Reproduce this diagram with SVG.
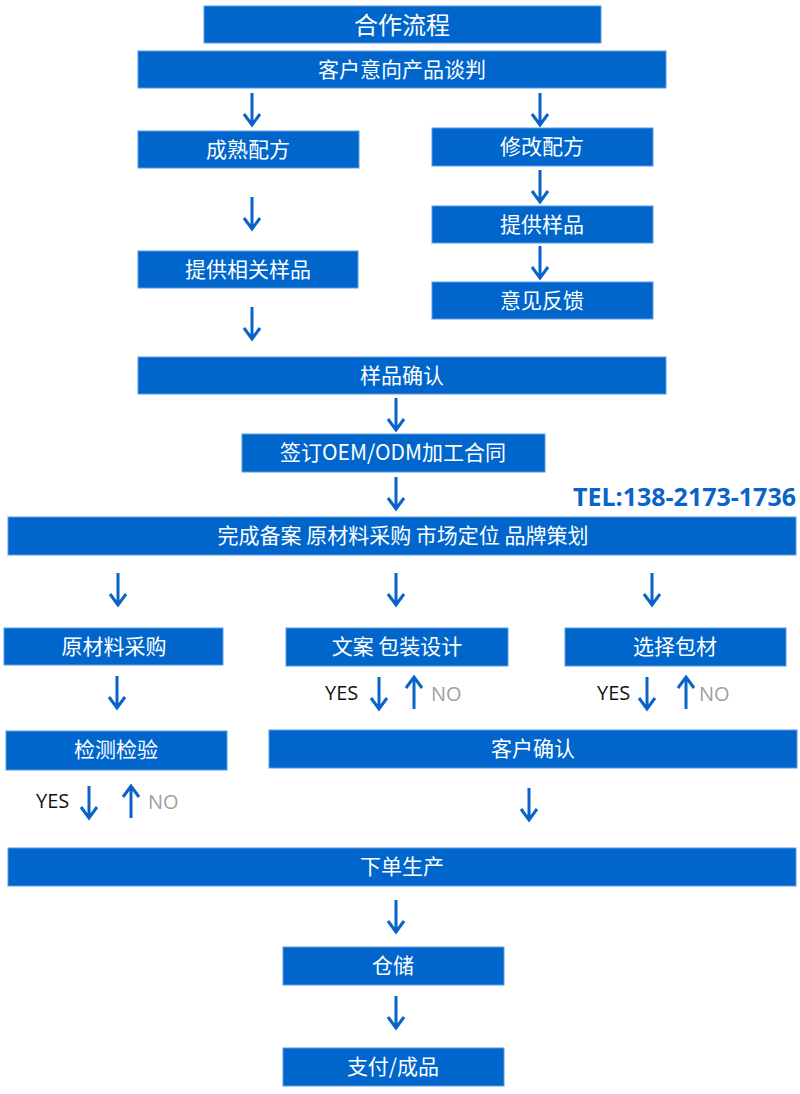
<svg xmlns="http://www.w3.org/2000/svg" xmlns:xlink="http://www.w3.org/1999/xlink" width="800" height="1094" viewBox="0 0 800 1094">
<style>
.box{fill:#0066CC;stroke:#5b9be0;stroke-width:1}
.t{font-family:"Noto Sans CJK SC","Noto Sans",sans-serif;font-size:21px;fill:#fff;text-anchor:middle;dominant-baseline:central}
.title{font-size:24px}
.arr{fill:none;stroke:#0a63c9;stroke-width:3}
.yes{font-family:"Open Sans","Noto Sans",sans-serif;font-size:20px;fill:#111}
.no{font-family:"Open Sans","Noto Sans",sans-serif;font-size:20px;fill:#a0a0a0}
.tel{font-family:"Open Sans","Noto Sans",sans-serif;font-size:25px;font-weight:bold;fill:#0a63c9}
</style>
<defs>
<path id="down" d="M0,0 V32 M-8,21 L0,32 L8,21"/>
<path id="up" d="M0,32 V0 M-8,11 L0,0 L8,11"/>
</defs>
<rect width="800" height="1094" fill="#fff"/>
<g id="n-title"><rect class="box" x="204" y="6" width="397" height="37"/><text class="t title" x="402" y="23">合作流程</text></g>
<g id="n-negotiate"><rect class="box" x="138" y="51" width="528" height="37"/><text class="t" x="402" y="68">客户意向产品谈判</text></g>
<g id="n-mature"><rect class="box" x="138" y="131" width="221" height="37"/><text class="t" x="248" y="148">成熟配方</text></g>
<g id="n-modify"><rect class="box" x="432" y="128" width="221" height="38"/><text class="t" x="542" y="145">修改配方</text></g>
<g id="n-sample"><rect class="box" x="432" y="206" width="221" height="37"/><text class="t" x="542" y="223">提供样品</text></g>
<g id="n-feedback"><rect class="box" x="432" y="282" width="221" height="37"/><text class="t" x="542" y="299">意见反馈</text></g>
<g id="n-related"><rect class="box" x="138" y="251" width="220" height="37"/><text class="t" x="248" y="268">提供相关样品</text></g>
<g id="n-confirm"><rect class="box" x="138" y="357" width="528" height="37"/><text class="t" x="402" y="374">样品确认</text></g>
<g id="n-contract"><rect class="box" x="242" y="434" width="303" height="38"/><text class="t" x="393" y="451">签订OEM/ODM加工合同</text></g>
<g id="n-tel"><text class="tel" x="796" y="506" text-anchor="end">TEL:138-2173-1736</text></g>
<g id="n-filing"><rect class="box" x="8" y="517" width="788" height="38"/><text class="t" x="403" y="534">完成备案 原材料采购 市场定位 品牌策划</text></g>
<g id="n-material"><rect class="box" x="4" y="628" width="219" height="37"/><text class="t" x="114" y="645">原材料采购</text></g>
<g id="n-design"><rect class="box" x="286" y="628" width="222" height="38"/><text class="t" x="397" y="645">文案 包装设计</text></g>
<g id="n-pack"><rect class="box" x="565" y="628" width="221" height="38"/><text class="t" x="675" y="645">选择包材</text></g>
<g id="n-inspect"><rect class="box" x="6" y="731" width="221" height="39"/><text class="t" x="116" y="748">检测检验</text></g>
<g id="n-custconfirm"><rect class="box" x="269" y="730" width="528" height="38"/><text class="t" x="533" y="747">客户确认</text></g>
<g id="n-produce"><rect class="box" x="8" y="848" width="788" height="38"/><text class="t" x="402" y="865">下单生产</text></g>
<g id="n-store"><rect class="box" x="283" y="947" width="221" height="38"/><text class="t" x="393" y="964">仓储</text></g>
<g id="n-pay"><rect class="box" x="283" y="1048" width="221" height="38"/><text class="t" x="393" y="1065">支付/成品</text></g>
<g id="labels">
<text class="yes" x="325" y="700">YES</text><text class="no" x="431" y="701">NO</text>
<text class="yes" x="597" y="700">YES</text><text class="no" x="699" y="701">NO</text>
<text class="yes" x="36" y="808">YES</text><text class="no" x="148" y="809">NO</text>
</g>
<g id="connectors" class="arr">
<use xlink:href="#down" x="252" y="93"/>
<use xlink:href="#down" x="540" y="93"/>
<use xlink:href="#down" x="540" y="170"/>
<use xlink:href="#down" x="540" y="246"/>
<use xlink:href="#down" x="252" y="197"/>
<use xlink:href="#down" x="252" y="307"/>
<use xlink:href="#down" x="396" y="398"/>
<use xlink:href="#down" x="396" y="477"/>
<use xlink:href="#down" x="118" y="573"/>
<use xlink:href="#down" x="396" y="573"/>
<use xlink:href="#down" x="652" y="573"/>
<use xlink:href="#down" x="117" y="676"/>
<use xlink:href="#down" x="379" y="677"/>
<use xlink:href="#up" x="414" y="677"/>
<use xlink:href="#down" x="647" y="677"/>
<use xlink:href="#up" x="686" y="677"/>
<use xlink:href="#down" x="89" y="786"/>
<use xlink:href="#up" x="131" y="786"/>
<use xlink:href="#down" x="529" y="788"/>
<use xlink:href="#down" x="396" y="900"/>
<use xlink:href="#down" x="396" y="996"/>
</g>
</svg>
